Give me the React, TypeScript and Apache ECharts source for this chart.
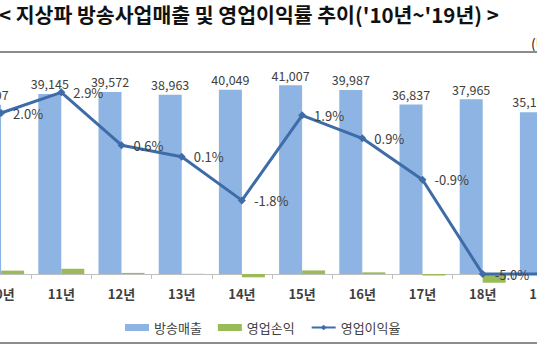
import React, { useEffect, useRef } from "react";
import * as echarts from "echarts";

const categories = ["10년", "11년", "12년", "13년", "14년", "15년", "16년", "17년", "18년", "19년"];
const revenue = [36807, 39145, 39572, 38963, 40049, 41007, 39987, 36837, 37965, 35168];
const operatingProfit = [736, 1135, 237, 39, -721, 779, 360, -332, -1898, -1758];
const marginRate = [2.0, 2.9, 0.6, 0.1, -1.8, 1.9, 0.9, -0.9, -5.0, -5.0];

const titleText = "< 지상파 방송사업매출 및 영업이익률 추이('10년~'19년) >";
const unitText = "(단위 : 억원, %)";

const FONT = "'Noto Sans CJK KR', 'Noto Sans', sans-serif";
const OFF = 40;

export default function App() {
  const ref = useRef<HTMLDivElement>(null);
  useEffect(() => {
    if (!ref.current) return;
    const chart = echarts.init(ref.current, null, { renderer: "svg" });
    chart.setOption({
      animation: false,
      backgroundColor: "#ffffff",
      textStyle: { fontFamily: FONT },
      graphic: [
        {
          type: "text",
          x: OFF - 1,
          y: 4,
          style: { text: titleText, font: `bold 20.5px ${FONT}`, fill: "#111111" },
        },
        {
          type: "text",
          x: OFF + 531,
          y: 36,
          style: { text: unitText, font: `14px ${FONT}`, fill: "#222222" },
        },
        {
          type: "line",
          shape: { x1: OFF, y1: 52, x2: OFF + 537, y2: 52 },
          style: { stroke: "#8c8c8c", lineWidth: 2 },
        },
        {
          type: "line",
          shape: { x1: OFF, y1: 343, x2: OFF + 537, y2: 343 },
          style: { stroke: "#8c8c8c", lineWidth: 2 },
        },
      ],
      legend: {
        left: OFF + 120,
        top: 316,
        itemGap: 16,
        itemWidth: 24,
        itemHeight: 7,
        textStyle: { fontSize: 13, color: "#404040", fontFamily: FONT },
        data: [
          { name: "방송매출", icon: "rect" },
          { name: "영업손익", icon: "rect" },
          { name: "영업이익율" },
        ],
      },
      grid: { left: OFF - 29, width: 602, top: 44, height: 253, containLabel: false },
      xAxis: {
        type: "category",
        data: categories,
        position: "bottom",
        offset: -23,
        axisLine: { onZero: false, lineStyle: { color: "#bfbfbf", width: 1 } },
        axisTick: { show: true, length: 5, lineStyle: { color: "#bfbfbf" } },
        axisLabel: { color: "#404040", fontSize: 13, fontWeight: "bold", margin: 13, fontFamily: FONT },
      },
      yAxis: [
        { type: "value", min: -5000, max: 50000, show: false, splitLine: { show: false } },
        { type: "value", min: -6, max: 5, show: false, splitLine: { show: false } },
      ],
      series: [
        {
          name: "방송매출",
          type: "bar",
          data: revenue,
          barWidth: 23,
          barGap: "0%",
          itemStyle: { color: "#8db4e2" },
          label: {
            show: true,
            position: "top",
            distance: 4,
            fontSize: 12.5,
            color: "#404040",
            fontFamily: FONT,
            formatter: (p: any) => Number(p.value).toLocaleString("en-US"),
          },
        },
        {
          name: "영업손익",
          type: "bar",
          data: operatingProfit,
          barWidth: 23,
          barGap: "0%",
          itemStyle: { color: "#9bbb59" },
        },
        {
          name: "영업이익율",
          type: "line",
          yAxisIndex: 1,
          data: marginRate,
          symbol: "diamond",
          symbolSize: 8,
          lineStyle: { color: "#3e6ca8", width: 3 },
          itemStyle: { color: "#3e6ca8" },
          label: {
            show: true,
            position: "right",
            distance: 8,
            fontSize: 13,
            color: "#404040",
            fontFamily: FONT,
            formatter: (p: any) => Number(p.value).toFixed(1) + "%",
          },
          z: 5,
        },
      ],
    });
    return () => chart.dispose();
  }, []);
  return (
    <div style={{ position: "fixed", left: 0, top: 0, width: 537, height: 360, overflow: "hidden", background: "#fff" }}>
      <div
        ref={ref}
        style={{ position: "absolute", left: -OFF, top: 0, width: 537 + 2 * OFF, height: 360 }}
      />
    </div>
  );
}
